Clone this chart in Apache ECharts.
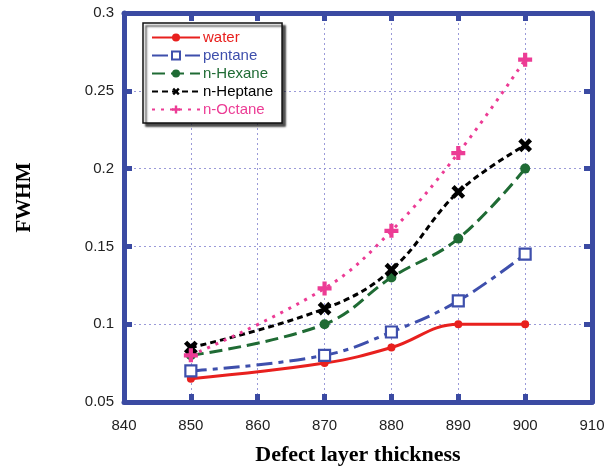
<!DOCTYPE html>
<html>
<head>
<meta charset="utf-8">
<script src="https://cdn.jsdelivr.net/npm/echarts@6/dist/echarts.min.js"></script>
<style>html,body{margin:0;padding:0;background:#fff}#c{width:606px;height:466px}</style>
</head>
<body>
<div id="c"></div>
<script>
var thickness = [850, 870, 880, 890, 900];
var water   = [0.065, 0.075, 0.085, 0.100, 0.100];
var pentane = [0.070, 0.080, 0.095, 0.115, 0.145];
var hexane  = [0.080, 0.100, 0.130, 0.155, 0.200];
var heptane = [0.085, 0.110, 0.135, 0.185, 0.215];
var octane  = [0.080, 0.123, 0.160, 0.210, 0.270];
var seriesNames = ['water', 'pentane', 'n-Hexane', 'n-Heptane', 'n-Octane'];
var colors = ['#e8201e', '#3e4fac', '#1f6b34', '#000000', '#ec3c95'];

function pairs(vals) { return thickness.map(function (x, i) { return [x, vals[i]]; }); }

var AX = '#3b4aa2';
var plusPath = 'path://M3.5,0h3v3.5h3.5v3h-3.5v3.5h-3v-3.5h-3.5v-3h3.5z';

function mk(i, vals, dash, symbol, size, fill, rot) {
  var color = colors[i];
  return {
    name: seriesNames[i], type: 'line', data: pairs(vals),
    smooth: 0.4,
    symbol: symbol, symbolSize: size, symbolRotate: rot || 0,
    showAllSymbol: true,
    lineStyle: { color: color, width: 3, type: dash, cap: 'butt' },
    itemStyle: { color: fill || color, borderColor: color, borderWidth: fill ? 2.2 : 0 },
    emphasis: { disabled: true },
    z: 3
  };
}

var chart = echarts.init(document.getElementById('c'), null, { renderer: 'canvas' });
chart.setOption({
  animation: false,
  backgroundColor: '#fff',
  grid: { left: 124, right: 14, top: 13, bottom: 64, containLabel: false, outerBoundsMode: 'none' },
  legend: {
    orient: 'vertical', left: 143, top: 23,
    data: seriesNames.map(function (n, i) { return { name: n, textStyle: { color: colors[i] } }; }),
    itemWidth: 48, itemHeight: 10, itemGap: 3,
    padding: [7, 9, 6, 8],
    backgroundColor: '#fff', borderColor: '#111', borderWidth: 1.5,
    shadowColor: 'rgba(0,0,0,0.7)', shadowBlur: 2, shadowOffsetX: 3, shadowOffsetY: 3,
    textStyle: { fontFamily: 'Liberation Sans, Arial', fontSize: 15, padding: [0, 0, 0, -2] },
    selectedMode: false
  },
  xAxis: [{
    type: 'value', min: 840, max: 910, interval: 10, position: 'bottom',
    name: 'Defect layer thickness', nameLocation: 'middle', nameGap: 42,
    nameTextStyle: { fontFamily: 'Liberation Serif, Times New Roman', fontWeight: 'bold', fontSize: 22, color: '#000' },
    axisLine: { show: true, onZero: false, lineStyle: { color: AX, width: 5 } },
    axisTick: { show: true, inside: true, length: 8, lineStyle: { color: AX, width: 5 } },
    axisLabel: { margin: 16, fontFamily: 'Liberation Sans, Arial', fontSize: 15, color: '#222' },
    splitLine: { show: true, lineStyle: { color: '#9a9ad8', width: 1, type: [2, 3] } }
  }, {
    type: 'value', min: 840, max: 910, interval: 10, position: 'top',
    axisLine: { show: true, onZero: false, lineStyle: { color: AX, width: 5 } },
    axisTick: { show: true, inside: true, length: 8, lineStyle: { color: AX, width: 5 } },
    axisLabel: { show: false }, splitLine: { show: false }
  }],
  yAxis: [{
    type: 'value', min: 0.05, max: 0.3, interval: 0.05, position: 'left',
    name: 'FWHM', nameLocation: 'middle', nameGap: 89, nameRotate: 90,
    nameTextStyle: { fontFamily: 'Liberation Serif, Times New Roman', fontWeight: 'bold', fontSize: 21, color: '#000', padding: [0, 0, 0, 20] },
    axisLine: { show: true, onZero: false, lineStyle: { color: AX, width: 5 } },
    axisTick: { show: true, inside: true, length: 8, lineStyle: { color: AX, width: 5 } },
    axisLabel: { margin: 10, fontFamily: 'Liberation Sans, Arial', fontSize: 15, color: '#222' },
    splitLine: { show: true, lineStyle: { color: '#9a9ad8', width: 1, type: [2, 3] } }
  }, {
    type: 'value', min: 0.05, max: 0.3, interval: 0.05, position: 'right',
    axisLine: { show: true, onZero: false, lineStyle: { color: AX, width: 5 } },
    axisTick: { show: true, inside: true, length: 8, lineStyle: { color: AX, width: 5 } },
    axisLabel: { show: false }, splitLine: { show: false }
  }],
  series: [
    mk(0, water, 'solid', 'circle', 8),
    mk(1, pentane, [16, 6, 5, 6], 'rect', 11, '#fff'),
    mk(2, hexane, [13, 6], 'circle', 10),
    mk(3, heptane, [6, 4], plusPath, 15, null, 45),
    mk(4, octane, [3, 6], plusPath, 14)
  ]
});
</script>
</body>
</html>
